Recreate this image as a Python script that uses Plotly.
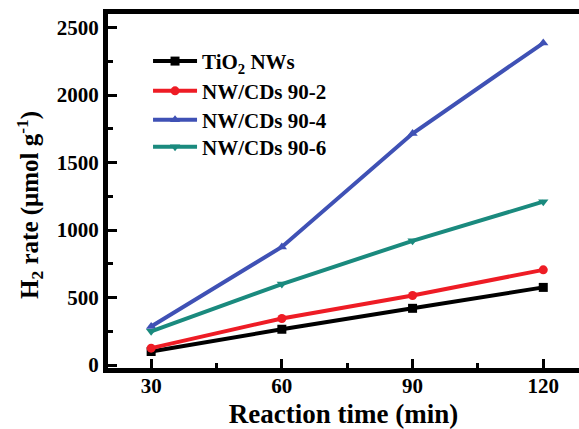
import plotly.graph_objects as go

time_min = [30, 60, 90, 120]
tio2_nws = [100, 265, 420, 575]
nw_cds_90_2 = [125, 345, 515, 705]
nw_cds_90_4 = [285, 875, 1715, 2385]
nw_cds_90_6 = [250, 600, 920, 1210]

series = [
    ("TiO<sub>2</sub> NWs", tio2_nws, "#000000", "square"),
    ("NW/CDs 90-2", nw_cds_90_2, "#ee1c25", "circle"),
    ("NW/CDs 90-4", nw_cds_90_4, "#3f51b5", "triangle-up"),
    ("NW/CDs 90-6", nw_cds_90_6, "#1a8a7e", "triangle-down"),
]
legend_rows_y = [0.866, 0.782, 0.700, 0.624]

FONT = "Times New Roman, Liberation Serif, serif"
LEG_FONT = dict(family=FONT, size=21, color="black", weight="bold")

fig = go.Figure()
legend_layout = {}
for i, (name, vals, color, sym) in enumerate(series):
    lname = "legend" if i == 0 else f"legend{i+1}"
    fig.add_trace(go.Scatter(
        x=time_min, y=vals, name=name, mode="lines+markers",
        line=dict(color=color, width=4),
        marker=dict(symbol=sym, size=9, color=color),
        legend=lname, showlegend=True,
    ))
    legend_layout[lname] = dict(
        x=0.085, y=legend_rows_y[i], xanchor="left", yanchor="middle",
        bgcolor="rgba(0,0,0,0)", font=LEG_FONT, itemwidth=44,
    )

fig.update_layout(
    width=579, height=429,
    margin=dict(l=108, r=0, t=14, b=61),
    paper_bgcolor="white", plot_bgcolor="white",
    font=dict(family=FONT, size=21, color="black"),
    xaxis=dict(
        range=[20.1, 128.2],
        tickvals=[30, 60, 90, 120],
        ticks="inside", ticklen=9, tickwidth=3, tickcolor="black",
        minor=dict(tickvals=[45, 75, 105], ticks="inside", ticklen=5, tickwidth=3, tickcolor="black"),
        showline=True, linewidth=5, linecolor="black", mirror=True,
        showgrid=False, zeroline=False,
        ticklabelstandoff=-5,
        tickfont=dict(family=FONT, size=21, weight="bold"),
        title=dict(text="Reaction time (min)", font=dict(family=FONT, size=27, weight="bold"), standoff=9),
    ),
    yaxis=dict(
        range=[-22, 2600],
        tickvals=[0, 500, 1000, 1500, 2000, 2500],
        ticks="inside", ticklen=9, tickwidth=3, tickcolor="black",
        minor=dict(tickvals=[250, 750, 1250, 1750, 2250], ticks="inside", ticklen=5, tickwidth=3, tickcolor="black"),
        showline=True, linewidth=5, linecolor="black", mirror=False,
        showgrid=False, zeroline=False,
        tickfont=dict(family=FONT, size=21, weight="bold"),
    ),
    annotations=[dict(
        text="H<sub>2</sub> rate (μmol g<sup>-1</sup>)",
        textangle=-90, xref="paper", yref="paper",
        x=-0.166, y=0.46, xanchor="center", yanchor="middle",
        showarrow=False,
        font=dict(family=FONT, size=25, weight="bold", color="black"),
    )],
    **legend_layout,
)

fig.write_html("out.html")
